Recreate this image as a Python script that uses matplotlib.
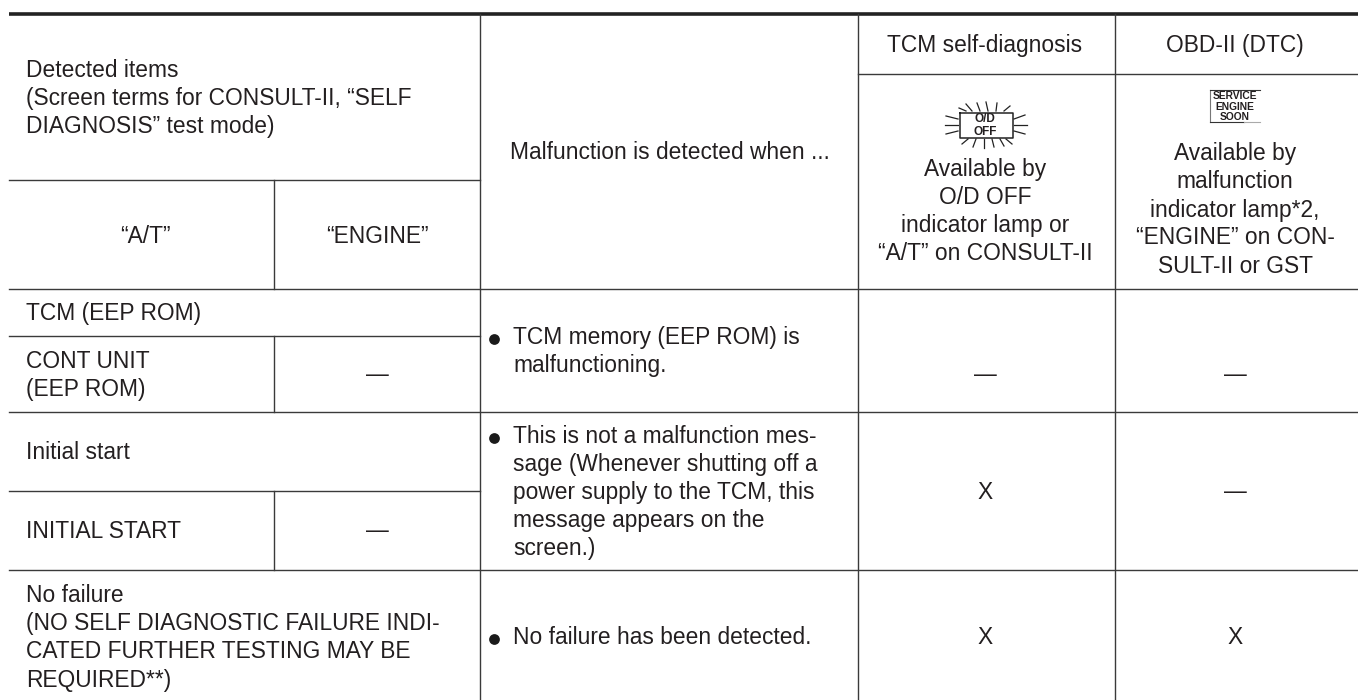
import numpy as np
import matplotlib
matplotlib.use('Agg')
import matplotlib.pyplot as plt

plt.rcParams['font.family'] = ['Liberation Sans', 'DejaVu Sans']

W, H = 1358, 700
INK = '#231f20'
LINE = '#3a3a3a'
SIZE = 16.4

# rule positions, in pixels of the page
top_rule = 14
left_rules = [180, 336, 491]
full_rules = [289, 412, 570]
col_rules = [480, 858, 1115]
inner_col = 274
inner_spans = [(180, 289), (336, 412), (491, 570)]

# text rows: x, baseline, label, alignment
left_text = [
    (26, 77, 'Detected items', 'left'),
    (26, 105, '(Screen terms for CONSULT-II, “SELF', 'left'),
    (26, 133, 'DIAGNOSIS” test mode)', 'left'),
    (145, 243, '“A/T”', 'center'),
    (377, 243, '“ENGINE”', 'center'),
    (26, 320, 'TCM (EEP ROM)', 'left'),
    (26, 368, 'CONT UNIT', 'left'),
    (26, 396, '(EEP ROM)', 'left'),
    (26, 459, 'Initial start', 'left'),
    (26, 538, 'INITIAL START', 'left'),
    (26, 602, 'No failure', 'left'),
    (26, 630, '(NO SELF DIAGNOSTIC FAILURE INDI-', 'left'),
    (26, 658, 'CATED FURTHER TESTING MAY BE', 'left'),
    (26, 687, 'REQUIRED**)', 'left'),
    (377, 381, '—', 'center'),
    (377, 537, '—', 'center'),
]
mid_text = [
    (670, 159, 'Malfunction is detected when ...', 'center'),
    (513, 344, 'TCM memory (EEP ROM) is', 'left'),
    (513, 372, 'malfunctioning.', 'left'),
    (513, 443, 'This is not a malfunction mes-', 'left'),
    (513, 471, 'sage (Whenever shutting off a', 'left'),
    (513, 499, 'power supply to the TCM, this', 'left'),
    (513, 527, 'message appears on the', 'left'),
    (513, 555, 'screen.)', 'left'),
    (513, 644, 'No failure has been detected.', 'left'),
]
right_text = [
    (985, 52, 'TCM self-diagnosis', 'center'),
    (1235, 52, 'OBD-II (DTC)', 'center'),
    (985, 176, 'Available by', 'center'),
    (985, 204, 'O/D OFF', 'center'),
    (985, 232, 'indicator lamp or', 'center'),
    (985, 260, '“A/T” on CONSULT-II', 'center'),
    (1235, 160, 'Available by', 'center'),
    (1235, 188, 'malfunction', 'center'),
    (1235, 217, 'indicator lamp*2,', 'center'),
    (1235, 244, '“ENGINE” on CON-', 'center'),
    (1235, 273, 'SULT-II or GST', 'center'),
    (985, 381, '—', 'center'),
    (1235, 381, '—', 'center'),
    (985, 499, 'X', 'center'),
    (1235, 498, '—', 'center'),
    (985, 644, 'X', 'center'),
    (1235, 644, 'X', 'center'),
]
bullets_y = [339, 438, 639]

# rays round the O/D OFF lamp: start and end offsets from the lamp centre
ray_x0 = [-28, -28, -28, -20, -14, -6, 2, 10, 18, 28, 28, 28, 20, 14, 6, -2, -10, -18]
ray_y0 = [-6, 0, 6, -14, -14, -14, -14, -14, -14, -6, 0, 6, 14, 14, 14, 14, 14, 14]
ray_x1 = [-40, -41, -40, -27, -20, -9, 0, 11, 24, 39, 41, 39, 26, 18, 8, -2, -13, -24]
ray_y1 = [-9, 0, 9, -17, -21, -22, -23, -22, -19, -10, 0, 9, 19, 21, 22, 23, 22, 19]

fig = plt.figure(figsize=(W / 100, H / 100), dpi=100)
ax = fig.add_axes([0, 0, 1, 1])
ax.set_xlim(0, W)
ax.set_ylim(H, 0)
ax.axis('off')

ax.plot([9, W], [top_rule, top_rule], color='#222222', lw=2.6, solid_capstyle='butt')
for y in left_rules:
    ax.plot([9, 480], [y, y], color=LINE, lw=1.0)
for y in full_rules:
    ax.plot([9, W], [y, y], color=LINE, lw=1.0)
ax.plot([858, W], [74, 74], color=LINE, lw=1.0)
for x in col_rules:
    ax.plot([x, x], [top_rule, H], color=LINE, lw=1.0)
for a, b in inner_spans:
    ax.plot([inner_col, inner_col], [a, b], color=LINE, lw=1.0)

for x, y, s, ha in left_text + mid_text + right_text:
    ax.text(x, y, s, ha=ha, va='baseline', fontsize=SIZE, color=INK)

ax.scatter([494] * len(bullets_y), bullets_y, s=60, color='#1a1a1a', linewidths=0)

# O/D OFF lamp
cx, cy = 986, 125
ax.plot([cx - 26, cx + 27, cx + 27, cx - 26, cx - 26],
        [cy - 12, cy - 12, cy + 13, cy + 13, cy - 12], color='#222222', lw=1.1)
for x0, y0, x1, y1 in zip(ray_x0, ray_y0, ray_x1, ray_y1):
    ax.plot([cx + x0, cx + x1], [cy + y0, cy + y1], color='#222222', lw=0.9)
ax.text(cx - 1, 122, 'O/D', ha='center', va='baseline', fontsize=8.5, fontweight='bold', color=INK)
ax.text(cx - 1, 135, 'OFF', ha='center', va='baseline', fontsize=8.5, fontweight='bold', color=INK)

# SERVICE ENGINE SOON lamp
ax.plot([1210, 1210], [90, 122], color='#777777', lw=0.8)
ax.plot([1210, 1260], [90, 90], color='#333333', lw=0.8)
ax.plot([1210, 1244], [122, 122], color='#333333', lw=0.8)
ax.plot([1244, 1260], [122, 122], color='#aaaaaa', lw=0.8)
ax.text(1235, 99, 'SERVICE', ha='center', va='baseline', fontsize=7.4, fontweight='bold', color=INK)
ax.text(1235, 110, 'ENGINE', ha='center', va='baseline', fontsize=7.4, fontweight='bold', color=INK)
ax.text(1235, 120, 'SOON', ha='center', va='baseline', fontsize=7.4, fontweight='bold', color=INK)

fig.savefig('out.png', dpi=100)
